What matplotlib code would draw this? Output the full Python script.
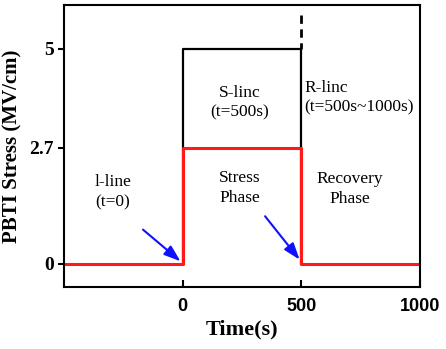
import numpy as np
import matplotlib.pyplot as plt

# black stress waveform (S-line)
t_black = [0, 0, 500, 500]
v_black = [0, 5, 5, 0]
# red waveform
t_red = [-500, 0, 0, 500, 500, 1000]
v_red = [0, 0, 2.7, 2.7, 0, 0]

xticks = [0, 500, 1000]
yticks = [0, 2.7, 5]
ytick_labels = ["0", "2.7", "5"]

plt.rcParams['font.family'] = 'Liberation Serif'

fig = plt.figure(figsize=(4.46, 3.49), dpi=100)
ax = fig.add_axes([64/446, 1 - 287/349, (420-64)/446, (287-5)/349])

ax.plot(t_black, v_black, color="black", linewidth=1.6)
ax.plot([500, 500], [5.78, 5], color="black", linewidth=2.0, linestyle=(0, (3, 2)))
ax.plot(t_red, v_red, color="#ff1a1a", linewidth=2.2)

arrow = dict(arrowstyle="-|>,head_length=1.0,head_width=0.35", color="#1010ff", lw=1.5)
ax.annotate("", xy=(0, 0.02), xytext=(-176, 0.84), arrowprops=arrow)
ax.annotate("", xy=(500, 0.05), xytext=(340, 1.16), arrowprops=arrow)

fs = 12.5
ax.text(-294, 1.67, "l-line\n(t=0)", ha="center", va="center", fontsize=fs, linespacing=1.3)
ax.text(240, 1.77, "Stress\nPhase", ha="center", va="center", fontsize=fs, linespacing=1.3)
ax.text(706, 1.74, "Recovery\nPhase", ha="center", va="center", fontsize=fs, linespacing=1.3)
ax.text(240, 3.74, "S-linc\n(t=500s)", ha="center", va="center", fontsize=fs, linespacing=1.3)
ax.text(512, 3.86, "R-linc\n(t=500s~1000s)", ha="left", va="center", fontsize=fs, linespacing=1.3)

ax.set_xlim(-500, 1000)
ax.set_ylim(-0.535, 6.02)

ax.set_xticks(xticks)
ax.set_xticklabels([str(v) for v in xticks], family="Liberation Sans", fontweight="bold", fontsize=13)
ax.set_yticks(yticks)
ax.set_yticklabels(ytick_labels, fontweight="bold", fontsize=14)
ax.tick_params(axis="x", direction="in", length=5, width=1.5, pad=8)
ax.tick_params(axis="y", direction="out", length=4, width=1.5)

for s in ax.spines.values():
    s.set_linewidth(1.5)

ax.set_xlabel("Time(s)", fontweight="bold", fontsize=16, labelpad=3)
ax.set_ylabel("PBTI Stress (MV/cm)", fontweight="bold", fontsize=15, labelpad=5)

plt.savefig("out.png", dpi=100)
